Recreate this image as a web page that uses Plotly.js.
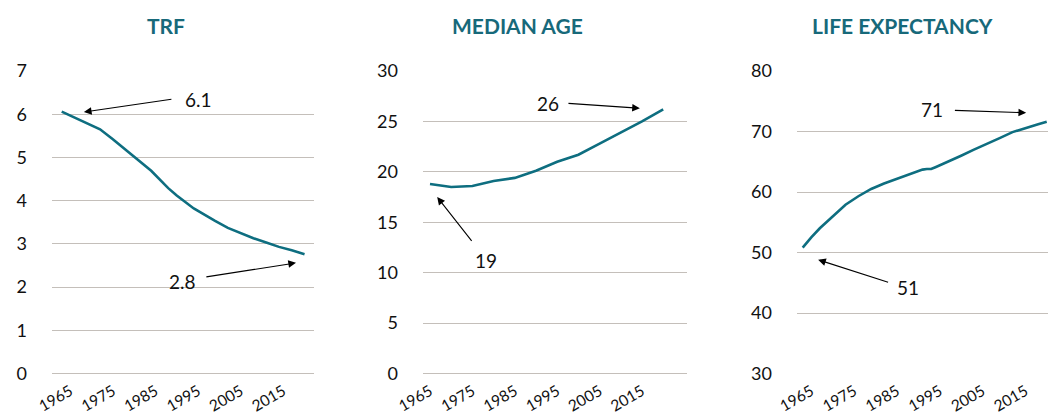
<!DOCTYPE html>
<html>
<head>
<meta charset="utf-8">
<script src="https://cdn.plot.ly/plotly-3.0.1.min.js"></script>
<style>html,body{margin:0;padding:0;background:#fff;}#chart{width:1048px;height:418px;}</style>
</head>
<body>
<div id="chart"></div>
<script>
// ---- Data ----
const panelTitles = ["TRF", "MEDIAN AGE", "LIFE EXPECTANCY"];
const tickYears = [1965, 1975, 1985, 1995, 2005, 2015];

const trfYears = [1963, 1965, 1968, 1972, 1975, 1979, 1984, 1988, 1990, 1994, 1996, 1999, 2002, 2005, 2008, 2011, 2014, 2017, 2020];
const trfValues = [6.06, 5.97, 5.84, 5.65, 5.42, 5.10, 4.69, 4.29, 4.12, 3.82, 3.70, 3.53, 3.37, 3.25, 3.13, 3.03, 2.93, 2.85, 2.76];

const ageYears = [1965, 1970, 1975, 1980, 1985, 1990, 1995, 2000, 2005, 2010, 2015, 2020];
const ageValues = [18.8, 18.5, 18.6, 19.1, 19.4, 20.1, 21.0, 21.7, 22.8, 23.9, 25.0, 26.2];

const lifeYears = [1963, 1965, 1967, 1970, 1973, 1976, 1979, 1982, 1985, 1988, 1991, 1992, 1993, 1994, 1997, 2000, 2003, 2006, 2009, 2012, 2015, 2018, 2020];
const lifeValues = [50.8, 52.5, 54.0, 56.0, 57.9, 59.3, 60.5, 61.4, 62.2, 63.0, 63.7, 63.8, 63.8, 64.1, 65.0, 66.0, 67.0, 67.9, 68.9, 69.9, 70.6, 71.2, 71.6];

// callout labels: [text, textX, textY, tailX, tailY, headX, headY]
const trfCallouts = [["6.1", 1995.2, 6.35, 1989.1, 6.35, 1968.2, 6.05], ["2.8", 1991.4, 2.12, 1996.6, 2.23, 2018.0, 2.56]];
const ageCallouts = [["26", 1992.8, 26.8, 1997.3, 26.8, 2014.5, 26.3], ["19", 1978.3, 11.2, 1975.1, 13.0, 1966.7, 17.5]];
const lifeCallouts = [["71", 1993.3, 73.6, 1998.2, 73.5, 2015.2, 73.1], ["51", 1987.7, 44.2, 1983.3, 45.0, 1966.6, 48.8]];

// ---- Styling ----
const W = 1048, H = 418;
const LINE = "#0e6e80";
const TITLE = "#17697a";
const GRID = "#c4bfba";
const FONT = "Lato, 'Open Sans', sans-serif";
const yTop = 1 - 71 / H, yBot = 1 - 373.5 / H;

function px(a) { return a / W; }

const traces = [
  {x: trfYears, y: trfValues, xaxis: "x", yaxis: "y"},
  {x: ageYears, y: ageValues, xaxis: "x2", yaxis: "y2"},
  {x: lifeYears, y: lifeValues, xaxis: "x3", yaxis: "y3"}
].map(t => Object.assign(t, {type: "scatter", mode: "lines", line: {color: LINE, width: 2.6}, hoverinfo: "skip", showlegend: false, cliponaxis: true}));

function xa(d0, d1, r0, r1) {
  return {domain: [px(d0), px(d1)], range: [r0, r1], tickmode: "array", tickvals: tickYears,
    ticktext: tickYears.map(String), tickangle: -30, showgrid: false, zeroline: false, showline: false,
    ticks: "", ticklabelstandoff: 5, tickfont: {family: FONT, size: 15.5, color: "#111"}, fixedrange: true};
}
function ya(r0, r1, dt) {
  return {domain: [yBot, yTop], range: [r0, r1], dtick: dt, tick0: r0, showgrid: true, gridcolor: GRID, gridwidth: 1,
    zeroline: r0 === 0, zerolinecolor: GRID, zerolinewidth: 1, showline: false, ticks: "",
    ticklabelstandoff: 24, tickfont: {family: FONT, size: 18, color: "#111"}, fixedrange: true};
}

const annotations = [];
const titleX = [166, 517.5, 902];
panelTitles.forEach((t, i) => annotations.push({text: "<b>" + t + "</b>", xref: "paper", yref: "paper",
  x: px(titleX[i]), y: 1 - 25 / H, xanchor: "center", yanchor: "middle", showarrow: false,
  font: {family: FONT, size: 21, color: TITLE}}));

[[trfCallouts, "x", "y"], [ageCallouts, "x2", "y2"], [lifeCallouts, "x3", "y3"]].forEach(([list, xr, yr]) => {
  list.forEach(c => {
    annotations.push({text: c[0], xref: xr, yref: yr, x: c[1], y: c[2], showarrow: false,
      xanchor: "center", yanchor: "middle", font: {family: FONT, size: 19, color: "#111"}});
    annotations.push({text: "", xref: xr, yref: yr, x: c[5], y: c[6], axref: xr, ayref: yr, ax: c[3], ay: c[4],
      showarrow: true, arrowhead: 2, arrowsize: 1.4, arrowwidth: 1.1, arrowcolor: "#000", standoff: 0, startstandoff: 0});
  });
});

const layout = {
  width: W, height: H, margin: {l: 0, r: 0, t: 0, b: 0},
  paper_bgcolor: "#fff", plot_bgcolor: "#fff", showlegend: false,
  xaxis: Object.assign(xa(52, 314, 1960.72, 2022.22), {anchor: "y"}),
  yaxis: Object.assign(ya(0, 7, 1), {anchor: "x"}),
  xaxis2: Object.assign(xa(423, 687, 1963.35, 2025.61), {anchor: "y2"}),
  yaxis2: Object.assign(ya(0, 30, 5), {anchor: "x2"}),
  xaxis3: Object.assign(xa(797, 1048, 1961.67, 2020.3), {anchor: "y3"}),
  yaxis3: Object.assign(ya(30, 80, 10), {anchor: "x3"}),
  annotations: annotations
};

Plotly.newPlot("chart", traces, layout, {displayModeBar: false, staticPlot: true});
</script>
</body>
</html>
